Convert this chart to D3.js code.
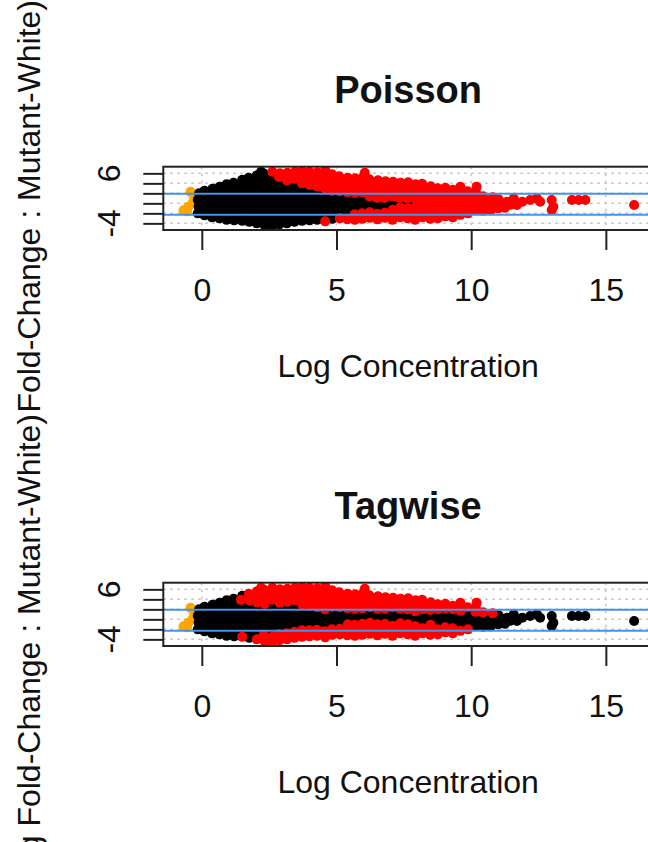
<!DOCTYPE html>
<html><head><meta charset="utf-8">
<script src="https://cdn.jsdelivr.net/npm/d3@7"></script>
<style>html,body{margin:0;padding:0;background:#fff;} svg{display:block;font-family:"Liberation Sans",Arial,Helvetica,sans-serif;}</style>
</head><body><svg id="c" width="648" height="842"></svg>
<script>
// ---------------- data ----------------
const panelTitles = ["Poisson", "Tagwise"];
const xTicks = [0, 5, 10, 15];
const xTickLabels = ["0", "5", "10", "15"];
const yTicks = [-4, -2, 0, 2, 4, 6];
const yTickLabelValues = [-4, 6];
const xLabel = "Log Concentration";
const yLabel = "Log Fold-Change : Mutant-White)";
const foldChangeLines = [1.9, -2.3];

// low-count genes (orange), same in both panels
const lowCount = [[-0.42,2.3],[-0.3,1.8],[-0.28,1.0],[-0.33,0.2],[-0.5,-0.7],[-0.68,-1.4],[-0.55,-1.6]];

// not DE in either test
const bothBlack = [
[-0.15,-2.0],[-0.12,-0.7],[-0.15,0.7],[-0.1,2.0],
[0.1,-2.4],[0.08,-1.4],[0.12,0],[0.1,1.4],[0.1,2.5],
[0.38,-2.8],[0.36,-1.5],[0.4,-0.2],[0.38,1.1],[0.35,2.2],[0.4,2.9],
[0.65,-3.0],[0.63,-2.0],[0.66,-0.8],[0.64,0.5],[0.67,1.7],[0.62,2.7],[0.66,3.3],
[0.92,-3.3],[0.9,-2.3],[0.94,-1.1],[0.92,0.1],[0.9,1.3],[0.93,2.5],[0.92,3.8],
[1.2,-3.4],[1.18,-2.6],[1.22,-1.5],[1.2,-0.3],[1.19,0.9],[1.21,2.0],[1.2,3.1],[1.18,4.1],
[1.48,-2.2],[1.46,-0.9],[1.5,0.4],[1.48,1.7],[1.47,2.9],[1.5,4.7],
[1.76,-3.7],[1.74,-2.5],[1.78,-1.2],[1.76,0.1],[1.75,1.4],[1.77,2.7],
[2.04,-2.8],[2.02,-1.5],[2.06,-0.2],[2.04,1.1],[2.03,2.3],
[2.32,-1.9],[2.3,-0.6],[2.34,0.7],[2.32,1.9],
[2.6,-2.3],[2.58,-1.0],[2.62,0.3],[2.6,1.5],[2.59,2.7],
[2.88,-1.7],[2.86,-0.4],[2.9,0.9],[2.88,2.1],
[3.16,-1.5],[3.14,-0.2],[3.18,1.1],[3.16,2.3],
[3.44,-1.2],[3.42,0.1],[3.46,1.4],[3.44,2.6],
[3.72,-0.9],[3.7,0.4],[3.74,1.7],
[4.0,-0.9],[3.98,0.4],[4.02,1.6],
[4.28,-0.9],[4.26,0.3],[4.3,1.4],
[4.56,-1.3],[4.54,-0.1],[4.58,1.0],
[4.84,-0.8],[4.82,0.4],[4.86,1.5],
[5.12,-0.8],[5.1,0.3],[5.14,1.4],
[5.4,0.1],[5.38,1.2],
[5.68,0.0],[5.66,1.1],
[5.96,0.2],[5.94,1.2],
[6.24,0.4],[6.52,0.1],[6.8,0.1],
[7.08,-0.4],[7.06,0.5],[7.36,0.2],[7.64,0.0],[7.95,0.0]
];

// DE in Poisson test only
const poissonOnlyDE = [
[6.22,1.4],[6.5,1.1],[6.78,1.1],[7.1,1.4],[7.34,1.1],[7.62,1.0],
[7.9,-0.9],[7.92,0.9],
[8.2,-0.8],[8.18,0.2],[8.22,1.1],
[8.48,-0.1],[8.46,0.9],
[8.76,-1.0],[8.74,0.0],[8.78,1.0],
[9.04,-0.6],[9.02,0.4],[9.06,1.3],
[9.32,-0.8],[9.3,0.2],[9.34,1.2],
[9.6,-1.3],[9.58,-0.3],[9.62,0.7],
[9.88,-1.0],[9.86,0.0],[9.9,1.0],
[10.16,-1.4],[10.14,-0.4],[10.18,0.6],
[10.44,-1.5],[10.42,-0.5],[10.46,0.5],
[10.72,-1.4],[10.7,-0.4],[10.74,0.6],
[11.0,-1.0],[10.98,-0.1],[11.02,0.8],
[11.25,-0.9],[11.45,-0.3],
[11.33,0.33],[11.58,1.0],[11.7,-0.33],[11.9,0.33],[12.19,0.66],[12.44,1.0],[12.56,0.33],
[12.99,0.66],[13.05,-0.67],[12.99,-1.33],[13.74,0.66],[13.99,0.66],[14.24,0.66],[16.05,-0.33]
];

// DE in Tagwise test only
const tagwiseOnlyDE = [
[1.5,-3.5],[1.45,3.9],
[1.76,3.8],[1.74,5.1],
[2.04,-4.0],[2.05,3.4],[2.02,4.5],[2.04,5.6],
[2.32,-4.3],[2.3,-3.1],[2.33,3.1],[2.31,4.3],[2.34,5.2],[2.32,5.9],[2.2,6.3],
[2.6,-4.7],[2.61,-3.5],[2.6,3.9],[2.58,5.1],
[2.88,-4.2],[2.87,-3.0],[2.89,3.3],[2.88,4.5],
[3.16,-4.0],[3.15,-2.8],[3.17,3.5],
[3.44,-3.7],[3.43,-2.5],[3.45,3.8],
[3.72,-3.5],[3.71,-2.2],[3.73,2.9],
[4.0,-3.4],[3.99,-2.2],[4.01,2.7],
[4.28,-3.3],[4.27,-2.1],[4.29,2.4],
[4.56,-2.4],[4.57,2.0],
[4.84,-3.1],[4.83,-2.0],
[5.12,-1.9],
[5.4,-2.1],[5.42,-1.0],
[5.68,-1.1],[5.96,-0.9],[6.24,-0.7],[6.52,-1.0],[6.8,-0.9]
];

// DE in both tests
const bothDE = [
[2.62,6.3],[2.86,5.3],[2.9,6.0],
[3.16,4.6],[3.14,5.4],[3.18,6.1],
[3.44,4.9],[3.42,5.6],[3.46,6.3],
[3.72,4.0],[3.7,5.0],[3.74,5.8],[3.72,6.4],
[4.0,3.7],[3.98,4.7],[4.02,5.6],[4.0,6.3],
[4.28,3.4],[4.26,4.4],[4.3,5.4],[4.28,6.2],
[4.58,-3.6],[4.56,3.0],[4.54,4.0],[4.58,5.0],[4.56,5.9],[4.58,6.7],
[4.84,2.5],[4.82,3.5],[4.86,4.6],[4.84,5.8],
[5.12,-3.0],[5.11,2.4],[5.13,3.4],[5.12,4.4],[5.1,5.4],
[5.4,-3.2],[5.41,2.2],[5.39,3.2],[5.4,4.2],[5.42,5.1],
[5.68,-3.3],[5.67,-2.2],[5.69,2.1],[5.68,3.1],[5.66,4.1],[5.7,5.0],
[5.96,-3.1],[5.95,-2.0],[5.97,2.2],[5.96,3.2],[5.94,4.2],[5.98,5.2],[6.05,6.1],
[6.24,-2.9],[6.23,-1.8],[6.25,2.4],[6.24,3.4],[6.22,4.8],
[6.52,-3.2],[6.51,-2.1],[6.53,2.1],[6.52,3.1],[6.5,4.0],[6.54,4.6],
[6.8,-2.9],[6.79,-1.9],[6.81,2.1],[6.8,3.0],[6.78,3.8],[6.82,4.4],
[7.08,-3.3],[7.07,-2.3],[7.09,-1.3],[7.08,2.4],[7.06,3.4],[7.1,4.3],
[7.36,-2.8],[7.35,-1.8],[7.37,-0.8],[7.36,2.1],[7.34,3.1],[7.38,4.1],
[7.64,-3.0],[7.63,-2.0],[7.65,-1.0],[7.64,2.0],[7.62,3.0],[7.66,4.2],
[7.92,-3.3],[7.91,-2.3],[7.93,-1.4],[7.92,1.6],[7.9,2.4],[7.94,3.8],
[8.2,-2.8],[8.19,-1.8],[8.21,2.0],[8.2,3.0],[8.18,3.9],
[8.48,-3.1],[8.47,-2.1],[8.49,-1.1],[8.48,1.9],[8.46,2.9],[8.5,3.4],
[8.76,-3.0],[8.75,-2.0],[8.77,2.0],[8.76,3.0],
[9.04,-2.6],[9.03,-1.6],[9.05,2.2],[9.04,3.1],
[9.32,-2.8],[9.31,-1.8],[9.33,2.0],[9.32,2.7],
[9.6,-2.3],[9.61,1.7],[9.59,2.5],[9.6,3.3],
[9.88,-2.0],[9.87,2.4],
[10.16,1.5],[10.17,2.4],[10.2,3.3],
[10.44,1.4],[10.8,1.2]
];

// ---------------- drawing ----------------
const svg = d3.select("#c");
const panelOffsets = [0, 416];
const x = d3.scaleLinear().domain([-1.43, 16.75]).range([163.3, 653]);
const y = d3.scaleLinear().domain([-5.33, 7.33]).range([230, 166.7]);
const R = 5;

const panels = [
  {black: bothBlack.concat(tagwiseOnlyDE), red: bothDE.concat(poissonOnlyDE)},
  {black: bothBlack.concat(poissonOnlyDE), red: bothDE.concat(tagwiseOnlyDE)}
];

panels.forEach((pd, i) => {
  const off = panelOffsets[i];
  const g = svg.append("g").attr("transform", `translate(0,${off})`);
  const x0 = x.range()[0], x1 = x.range()[1], yTop = y.range()[1], yBot = y.range()[0];
  const clipId = "plotclip" + i;
  g.append("clipPath").attr("id", clipId)
    .append("rect").attr("x", x0).attr("y", yTop).attr("width", x1 - x0).attr("height", yBot - yTop);
  const plot = g.append("g").attr("clip-path", `url(#${clipId})`);

  // grid
  plot.selectAll("line.vg").data(xTicks).join("line").attr("class", "vg")
    .attr("x1", d => x(d)).attr("x2", d => x(d)).attr("y1", yTop).attr("y2", yBot)
    .attr("stroke", "#c4c4c4").attr("stroke-width", 1.5).attr("stroke-dasharray", "2.5,4.5");
  plot.selectAll("line.hg").data(yTicks).join("line").attr("class", "hg")
    .attr("x1", x0).attr("x2", x1).attr("y1", d => y(d)).attr("y2", d => y(d))
    .attr("stroke", "#c4c4c4").attr("stroke-width", 1.5).attr("stroke-dasharray", "2.5,4.5");

  // points
  plot.selectAll("circle.o").data(lowCount).join("circle").attr("class", "o")
    .attr("cx", d => x(d[0])).attr("cy", d => y(d[1])).attr("r", R).attr("fill", "#FFA500");
  plot.selectAll("circle.k").data(pd.black).join("circle").attr("class", "k")
    .attr("cx", d => x(d[0])).attr("cy", d => y(d[1])).attr("r", R).attr("fill", "#000");
  plot.selectAll("circle.r").data(pd.red).join("circle").attr("class", "r")
    .attr("cx", d => x(d[0])).attr("cy", d => y(d[1])).attr("r", R).attr("fill", "#FF0000");

  // fold-change lines
  plot.selectAll("line.fc").data(foldChangeLines).join("line").attr("class", "fc")
    .attr("x1", x0).attr("x2", x1).attr("y1", d => y(d)).attr("y2", d => y(d))
    .attr("stroke", "#4592e6").attr("stroke-width", 2);

  // box
  g.append("rect").attr("x", x0).attr("y", yTop).attr("width", x1 - x0).attr("height", yBot - yTop)
    .attr("fill", "none").attr("stroke", "#222").attr("stroke-width", 2);

  // x axis
  const xa = g.append("g").attr("transform", `translate(0,${yBot})`)
    .call(d3.axisBottom(x).tickValues(xTicks).tickSize(20).tickPadding(28).tickFormat((d, j) => xTickLabels[j]));
  xa.select(".domain").remove();
  xa.selectAll(".tick line").attr("stroke", "#222").attr("stroke-width", 2);
  xa.selectAll(".tick text").attr("font-size", 32).attr("fill", "#111")
    .attr("font-family", '"Liberation Sans",Arial,sans-serif');

  // y axis
  const ya = g.append("g").attr("transform", `translate(${x0},0)`)
    .call(d3.axisLeft(y).tickValues(yTicks).tickSize(20).tickFormat(""));
  ya.select(".domain").remove();
  ya.selectAll(".tick line").attr("stroke", "#222").attr("stroke-width", 2);
  g.selectAll("text.yt").data(yTickLabelValues).join("text").attr("class", "yt")
    .attr("x", 120).attr("y", d => y(d))
    .attr("transform", d => `rotate(-90,120,${y(d)})`)
    .attr("text-anchor", "middle").attr("font-size", 32).attr("fill", "#111")
    .text(d => String(d));

  // title
  g.append("text").attr("x", (x0 + x1) / 2).attr("y", 103).attr("text-anchor", "middle")
    .attr("font-size", 38).attr("font-weight", "bold").attr("fill", "#111").text(panelTitles[i]);
  // x label
  g.append("text").attr("x", (x0 + x1) / 2).attr("y", 377).attr("text-anchor", "middle")
    .attr("font-size", 32).attr("fill", "#111").text(xLabel);
});

// y labels (clipped to each figure region)
const labelEnds = [0, 414];
const clipRanges = [[0, 413], [413, 842]];
labelEnds.forEach((ye, i) => {
  const cid = "ylabclip" + i;
  svg.append("clipPath").attr("id", cid).append("rect")
    .attr("x", 0).attr("y", clipRanges[i][0]).attr("width", 160).attr("height", clipRanges[i][1] - clipRanges[i][0]);
  svg.append("g").attr("clip-path", `url(#${cid})`).append("text")
    .attr("x", 40).attr("y", ye).attr("transform", `rotate(-90,40,${ye})`)
    .attr("text-anchor", "end").attr("font-size", 32).attr("fill", "#111").text(yLabel);
});
</script>
</body></html>
